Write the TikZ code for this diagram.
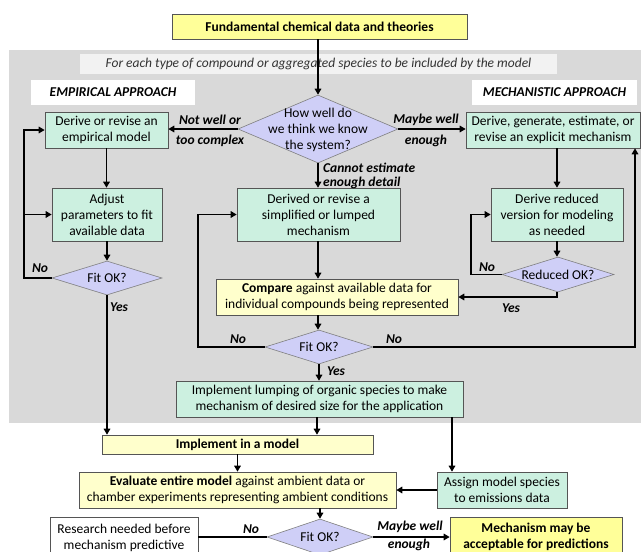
\documentclass[tikz,border=0pt]{standalone}
\usepackage{fontspec}
\setmainfont{Carlito}
\usetikzlibrary{shapes.geometric,arrows.meta}
\definecolor{bggray}{HTML}{D9D9D9}
\definecolor{bandgray}{HTML}{F2F2F2}
\definecolor{yelA}{HTML}{FFFF99}
\definecolor{yelB}{HTML}{FFFFCC}
\definecolor{mint}{HTML}{CCF0E0}
\definecolor{lav}{HTML}{CFCFF7}
\definecolor{boxborder}{HTML}{555555}
\definecolor{diaborder}{HTML}{7F7F7F}
\begin{document}
\begin{tikzpicture}[x=1pt,y=-1pt,
  every node/.style={font=\fontsize{13.5}{16}\selectfont},
  box/.style={draw=boxborder, line width=0.6pt, inner sep=0.5pt, align=center},
  ybox/.style={box, fill=yelA},
  ybox2/.style={box, fill=yelB},
  gbox/.style={box, fill=mint},
  wbox/.style={box, fill=white},
  dia/.style={diamond, draw=diaborder, fill=lav, inner sep=0pt, line width=0.6pt},
  lbl/.style={font=\fontsize{13.5}{16}\selectfont\bfseries\itshape, inner sep=0pt},
  conn/.style={line width=1.7pt, black},
  arr/.style={conn, -{Triangle[length=6pt,width=6.5pt]}}
]
\useasboundingbox (0,0) rectangle (641,552);
\clip (0,0) rectangle (641,552);
% background
\fill[bggray] (9,50) rectangle (645,423);
\node[fill=bandgray, minimum width=477pt, minimum height=20pt, inner sep=0pt,
      font=\fontsize{13.5}{16}\selectfont\itshape, text=black!80] (band) at (318.5,64)
  {For each type of compound or aggregated species to be included by the model};
\node[fill=white, minimum width=164pt, minimum height=25pt, inner sep=0pt,
      font=\fontsize{13.5}{16}\selectfont\bfseries\itshape] (emp) at (113,92.5) {EMPIRICAL APPROACH};
\node[fill=white, minimum width=165pt, minimum height=25pt, inner sep=0pt,
      font=\fontsize{13.5}{16}\selectfont\bfseries\itshape] (mech) at (554.5,92.5) {MECHANISTIC APPROACH};

% nodes
\node[ybox, minimum width=295pt, minimum height=25pt, font=\fontsize{13.5}{16}\selectfont\bfseries] (top) at (319.5,26.5) {Fundamental chemical data and theories};
\node[dia, minimum width=160pt, minimum height=68pt] (dq) at (318,129) {};
\node[align=center, inner sep=0pt] (dqt) at (318,129.5) {How well do\\we think we know\\the system?};
\node[gbox, minimum width=123pt, minimum height=36pt] (empbox) at (106.5,130) {Derive or revise an\\empirical model};
\node[gbox, minimum width=174pt, minimum height=36pt] (mechbox) at (553,130) {Derive, generate, estimate, or\\revise an explicit mechanism};
\node[gbox, minimum width=110pt, minimum height=53pt] (adjust) at (107,214.5) {Adjust\\parameters to fit\\available data};
\node[dia, minimum width=110pt, minimum height=34pt] (fit1) at (107,278) {};
\node[inner sep=0pt] (fit1t) at (107,278) {Fit OK?};
\node[gbox, minimum width=163pt, minimum height=53pt] (derived) at (318.5,214.5) {Derived or revise a\\simplified or lumped\\mechanism};
\node[ybox2, minimum width=242pt, minimum height=36pt] (compare) at (337,297) {\textbf{Compare} against available data for\\individual compounds being represented};
\node[dia, minimum width=108pt, minimum height=34pt] (fit2) at (319,347) {};
\node[inner sep=0pt] (fit2t) at (319,347) {Fit OK?};
\node[gbox, minimum width=132pt, minimum height=53pt] (reduced) at (557,214.5) {Derive reduced\\version for modeling\\as needed};
\node[dia, minimum width=112pt, minimum height=35pt] (redok) at (558,274.5) {};
\node[inner sep=0pt] (redokt) at (558,274.5) {Reduced OK?};
\node[gbox, minimum width=287pt, minimum height=36pt] (lump) at (319.5,399) {Implement lumping of organic species to make\\mechanism of desired size for the application};
\node[ybox2, minimum width=271pt, minimum height=19pt, font=\fontsize{13.5}{16}\selectfont\bfseries] (impl) at (237.5,444.5) {Implement in a model};
\node[ybox2, minimum width=317pt, minimum height=36pt] (eval) at (237.5,490) {\textbf{Evaluate entire model} against ambient data or\\chamber experiments representing ambient conditions};
\node[gbox, minimum width=130pt, minimum height=36pt] (assign) at (502,490) {Assign model species\\to emissions data};
\node[dia, minimum width=106pt, minimum height=36pt] (fit3) at (320,537) {};
\node[inner sep=0pt] (fit3t) at (320,537) {Fit OK?};
\node[wbox, minimum width=148pt, minimum height=40pt] (research) at (124,537.5) {Research needed before\\mechanism predictive};
\node[ybox, minimum width=172pt, minimum height=39pt, font=\fontsize{13.5}{16.5}\selectfont\bfseries] (accept) at (536,537) {Mechanism may be\\acceptable for predictions};

% coordinates
\coordinate (l1) at (24,278);
\coordinate (l2) at (198,347);
\coordinate (l3) at (635,347);
\coordinate (l4) at (471,274.5);
\coordinate (l5) at (557,297);

% connectors
\draw[arr] (top.south -| dq.north) -- (dq.north);
\draw[arr] (dq.west) -- (dq.west -| empbox.east);
\draw[arr] (dq.east) -- (dq.east -| mechbox.west);
\draw[arr] (dq.south) -- (dq.south |- derived.north);
\draw[arr] (empbox.south) -- (empbox.south |- adjust.north);
\draw[arr] (adjust.south) -- (fit1.north);
\draw[arr] (fit1.west) -- (l1) |- (empbox.west);
\draw[arr] (l1 |- adjust.west) -- (adjust.west);
\draw[arr] (fit1.south) -- (fit1.south |- impl.north);
\draw[arr] (derived.south -| dq.south) -- (dq.south |- compare.north);
\draw[arr] (compare.south -| dq.south) -- (dq.south |- fit2.north);
\draw[arr] (fit2.west) -- (l2) |- (derived.west);
\draw[arr] (fit2.east) -- (l3) -- (l3 |- mechbox.south);
\draw[arr] (fit2.south) -- (fit2.south |- lump.north);
\draw[arr] (mechbox.south -| reduced.north) -- (reduced.north);
\draw[arr] (reduced.south) -- (reduced.south |- redok.north);
\draw[arr] (redok.west) -- (l4) |- (reduced.west);
\draw[arr] (redok.south -| l5) -- (l5) -- (l5 -| compare.east);
\draw[arr] (lump.south -| 317,0) -- (317,0 |- impl.north);
\draw[arr] (lump.south -| 452,0) -- (452,0 |- assign.north);
\draw[arr] (impl.south) -- (impl.south |- eval.north);
\draw[arr] (assign.west) -- (eval.east);
\draw[arr] (eval.south -| fit3.north) -- (fit3.north);
\draw[conn] (fit3.west) -- (fit3.west -| research.east);
\draw[arr] (fit3.east) -- (fit3.east -| accept.west);

% labels
\node[lbl] (lb1) at (210,120) {Not well or};
\node[lbl] (lb2) at (210,140.5) {too complex};
\node[lbl] (lb3) at (426,120) {Maybe well};
\node[lbl] (lb4) at (426,140.5) {enough};
\node[lbl, anchor=west] (lb5) at (323,168) {Cannot estimate};
\node[lbl, anchor=west] (lb6) at (323,182.5) {enough detail};
\node[lbl] (lb7) at (40,268) {No};
\node[lbl] (lb8) at (119,307) {Yes};
\node[lbl] (lb9) at (238,339) {No};
\node[lbl] (lb10) at (394,339) {No};
\node[lbl] (lb11) at (336,371) {Yes};
\node[lbl] (lb12) at (487,267) {No};
\node[lbl] (lb13) at (511,308) {Yes};
\node[lbl] (lb14) at (251,529) {No};
\node[lbl] (lb15) at (410,527) {Maybe well};
\node[lbl] (lb16) at (409,545) {enough};
\end{tikzpicture}
\end{document}
